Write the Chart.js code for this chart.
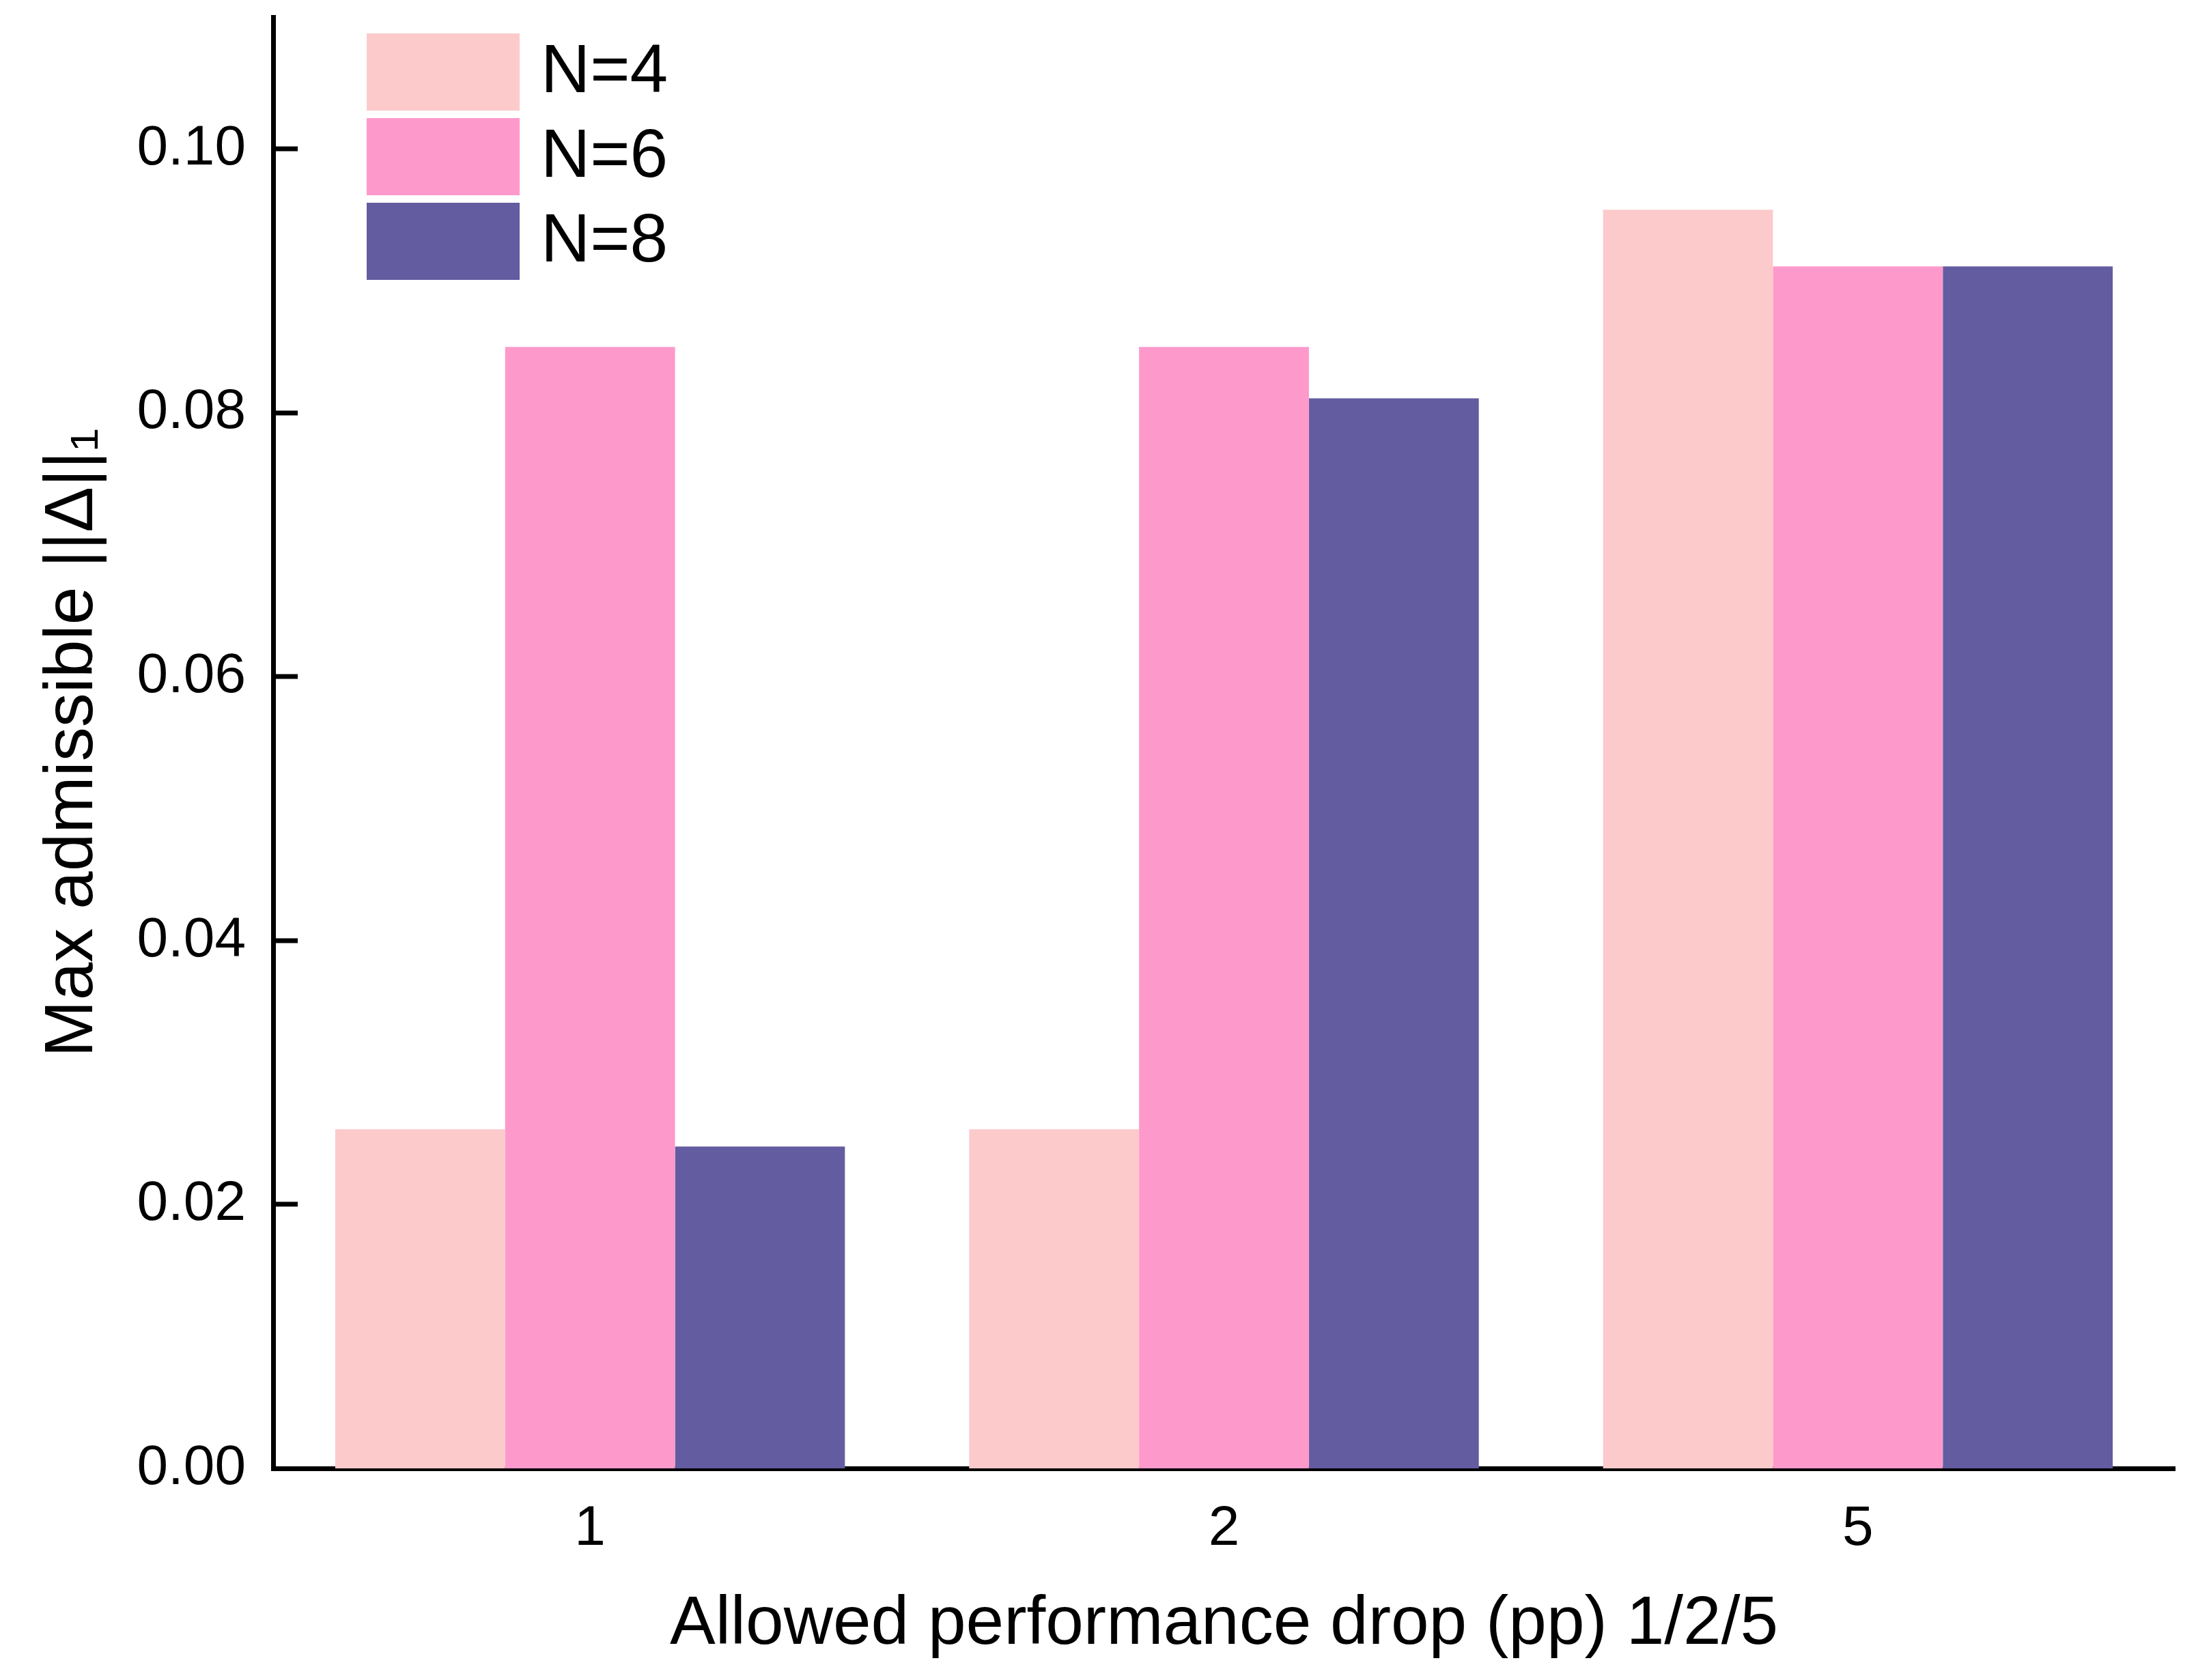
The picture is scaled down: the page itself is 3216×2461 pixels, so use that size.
<!DOCTYPE html>
<html>
<head>
<meta charset="utf-8">
<script src="https://cdn.jsdelivr.net/npm/chart.js@4/dist/chart.umd.min.js"></script>
<style>
  html, body { margin: 0; padding: 0; background: #fff; }
  canvas { display: block; }
</style>
</head>
<body>
<canvas id="bar" width="3216" height="2461"></canvas>
<script>
const CATEGORIES = ['1', '2', '5']
const SERIES_LABELS = ['N=4', 'N=6', 'N=8']
const N4 = [0.0257, 0.0257, 0.0954]
const N6 = [0.085, 0.085, 0.0911]
const N8 = [0.0244, 0.0811, 0.0911]
const COLORS = ['#FCCACB', '#FE99CC', '#635CA0']
const Y_TICKS = [0, 0.02, 0.04, 0.06, 0.08, 0.10]

const FONT = 'Liberation Sans, Arial, sans-serif'
const BAR_GRAPH = document.getElementById('bar')

// ticks on the y axis point inward, and the legend sits inside the plot
const innerTicks = {
    id: 'innerTicks',
    afterDraw(chart) {
        const ctx = chart.ctx
        const y = chart.scales.y
        ctx.save()
        ctx.strokeStyle = '#000'
        ctx.lineWidth = 7
        Y_TICKS.forEach(v => {
            const py = Math.round(y.getPixelForValue(v))
            if (v === 0) return
            ctx.beginPath()
            ctx.moveTo(y.right, py)
            ctx.lineTo(y.right + 36, py)
            ctx.stroke()
        })
        ctx.restore()
    }
}

const insideLegend = {
    id: 'insideLegend',
    afterDraw(chart) {
        const ctx = chart.ctx
        const area = chart.chartArea
        const x0 = area.left + 137
        const y0 = area.top + 24
        ctx.save()
        ctx.font = '100px ' + FONT
        ctx.textBaseline = 'middle'
        ctx.fillStyle = '#000'
        chart.data.datasets.forEach((ds, i) => {
            const top = y0 + i * 124
            ctx.fillStyle = ds.backgroundColor
            ctx.fillRect(x0, top, 224, 113)
            ctx.fillStyle = '#000'
            ctx.fillText(ds.label, x0 + 255, top + 58)
        })
        ctx.restore()
    }
}

new Chart(BAR_GRAPH, {
    type: 'bar',
    data: {
        labels: CATEGORIES,
        datasets: [N4, N6, N8].map((d, i) => ({
            label: SERIES_LABELS[i],
            data: d,
            backgroundColor: COLORS[i],
            borderWidth: 0,
            barPercentage: 1,
            categoryPercentage: 0.804
        }))
    },
    options: {
        responsive: false,
        animation: false,
        devicePixelRatio: 1,
        layout: { padding: { top: 25, right: 31, left: 0, bottom: 0 } },
        plugins: {
            legend: { display: false },
            tooltip: { enabled: false }
        },
        scales: {
            x: {
                z: 1,
                grid: { display: false, drawTicks: false },
                border: { display: true, color: '#000', width: 7 },
                ticks: {
                    color: '#000',
                    padding: 40,
                    font: { family: FONT, size: 82 }
                },
                title: {
                    display: true,
                    text: 'Allowed performance drop (pp) 1/2/5',
                    color: '#000',
                    font: { family: FONT, size: 100 },
                    padding: { top: 0, bottom: 21 }
                },
                afterFit(scale) {
                    scale.height = 310
                    scale.paddingLeft = 0
                    scale.paddingRight = 0
                }
            },
            y: {
                z: 1,
                min: 0,
                max: 0.11,
                grid: { display: false, drawTicks: false },
                border: { display: true, color: '#000', width: 7 },
                afterBuildTicks(scale) {
                    scale.ticks = Y_TICKS.map(v => ({ value: v }))
                },
                ticks: {
                    color: '#000',
                    padding: 40,
                    font: { family: FONT, size: 82 },
                    callback: v => Number(v).toFixed(2)
                },
                title: {
                    display: true,
                    text: 'Max admissible ||\u0394||\u2081',
                    color: '#000',
                    font: { family: FONT, size: 100 },
                    padding: { top: 47, bottom: 0 }
                },
                afterFit(scale) {
                    scale.width = 400
                    scale.paddingTop = 0
                    scale.paddingBottom = 0
                }
            }
        }
    },
    plugins: [innerTicks, insideLegend]
})
</script>
</body>
</html>
